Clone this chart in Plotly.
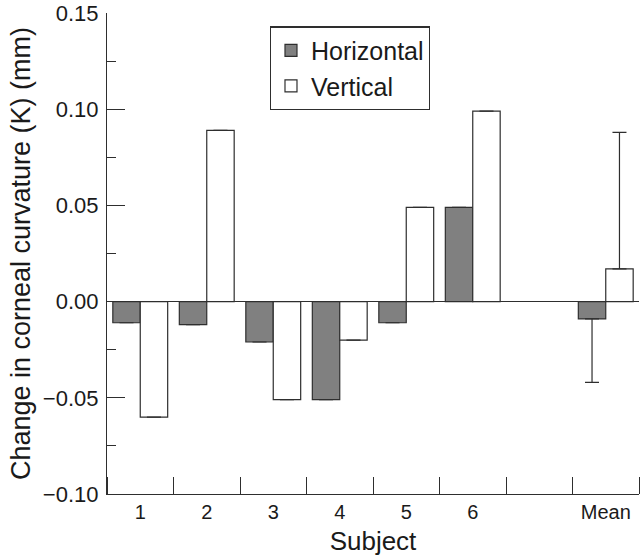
import plotly.graph_objects as go

subjects = ["1", "2", "3", "4", "5", "6", "Mean"]
positions = [0, 1, 2, 3, 4, 5, 7]
horizontal = [-0.011, -0.012, -0.021, -0.051, -0.011, 0.049, -0.009]
vertical = [-0.060, 0.089, -0.051, -0.020, 0.049, 0.099, 0.017]
h_err_minus = [None, None, None, None, None, None, 0.033]
h_err_plus = [None, None, None, None, None, None, 0.0]
v_err_minus = [None, None, None, None, None, None, 0.0]
v_err_plus = [None, None, None, None, None, None, 0.071]

line_col = "#2e2e2e"
font_family = "Liberation Sans, Arial, sans-serif"

fig = go.Figure()
fig.add_trace(go.Bar(
    x=positions, y=horizontal, name="Horizontal",
    marker=dict(color="#808080", line=dict(color=line_col, width=1.2)),
    error_y=dict(type="data", symmetric=False, array=h_err_plus, arrayminus=h_err_minus,
                 color=line_col, thickness=1.2, width=7),
))
fig.add_trace(go.Bar(
    x=positions, y=vertical, name="Vertical",
    marker=dict(color="#ffffff", line=dict(color=line_col, width=1.2)),
    error_y=dict(type="data", symmetric=False, array=v_err_plus, arrayminus=v_err_minus,
                 color=line_col, thickness=1.2, width=7),
))

fig.update_layout(
    width=640, height=556,
    margin=dict(l=107, r=1, t=13, b=62),
    paper_bgcolor="white", plot_bgcolor="white",
    barmode="group", bargap=0.175, bargroupgap=0,
    font=dict(family=font_family, color="#1a1a1a", size=21),
    showlegend=True,
    legend=dict(x=0.306, y=0.972, xanchor="left", yanchor="top",
                bordercolor=line_col, borderwidth=1.2, bgcolor="white",
                font=dict(size=25), itemwidth=30, tracegroupgap=0),
    xaxis=dict(
        range=[-0.5, 7.5], tickmode="array", tickvals=positions, ticktext=subjects,
        ticks="", showgrid=False, zeroline=False, automargin=False,
        showline=True, linecolor=line_col, linewidth=1.2,
        tickfont=dict(size=20), ticklabeloverflow="allow",
        minor=dict(tickmode="linear", tick0=0.5, dtick=1, ticks="inside",
                   ticklen=17, tickcolor=line_col, tickwidth=1.2, showgrid=False),
        title=dict(text="Subject", font=dict(size=26), standoff=10),
    ),
    yaxis=dict(
        range=[-0.10, 0.15], tickmode="linear", tick0=-0.10, dtick=0.05, tickformat=".2f",
        ticks="inside", ticklen=18, tickcolor=line_col, tickwidth=1.2, automargin=False,
        showgrid=False, zeroline=True, zerolinecolor=line_col, zerolinewidth=1.2,
        showline=True, linecolor=line_col, linewidth=1.2,
        tickfont=dict(size=22), ticklabeloverflow="allow", ticklabelstandoff=3,
        minor=dict(tickmode="linear", tick0=-0.075, dtick=0.05, ticks="inside",
                   ticklen=9, tickcolor=line_col, tickwidth=1.2, showgrid=False),
        title=dict(text="Change in corneal curvature (K) (mm)", font=dict(size=27), standoff=4),
    ),
)

fig.write_html("out.html", config={"displayModeBar": False},
               post_script="document.body.style.margin='0';")
